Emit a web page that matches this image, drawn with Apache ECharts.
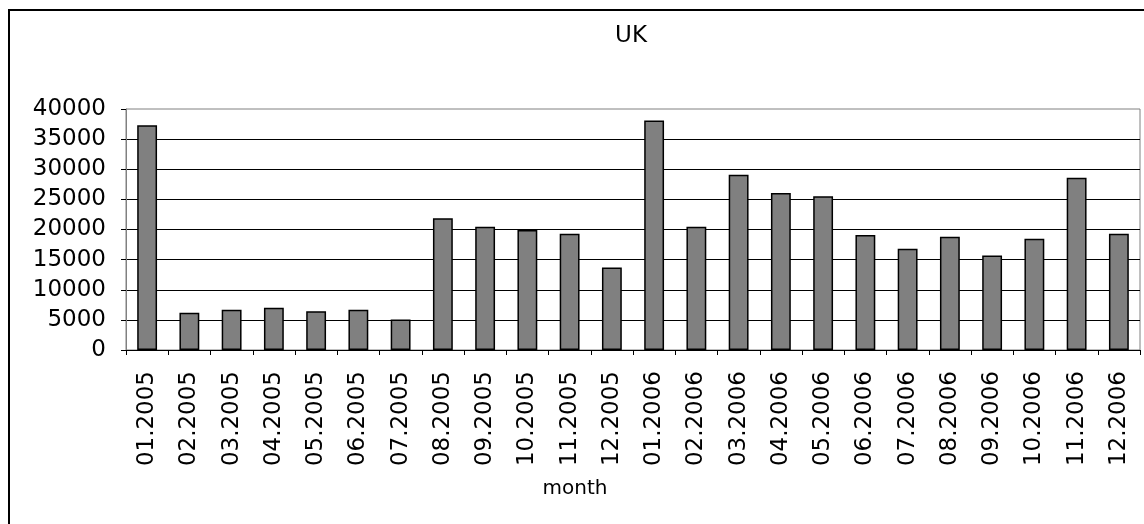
<!DOCTYPE html>
<html>
<head>
<meta charset="utf-8">
<script src="https://cdn.jsdelivr.net/npm/echarts@6/dist/echarts.min.js"></script>
<style>
  html, body { margin: 0; padding: 0; background: #fff; }
  #chart { width: 1144px; height: 524px; }
</style>
</head>
<body>
<div id="chart"></div>
<script>
// Monthly totals for the UK, 2005-2006
const months = [
  '01.2005', '02.2005', '03.2005', '04.2005', '05.2005', '06.2005',
  '07.2005', '08.2005', '09.2005', '10.2005', '11.2005', '12.2005',
  '01.2006', '02.2006', '03.2006', '04.2006', '05.2006', '06.2006',
  '07.2006', '08.2006', '09.2006', '10.2006', '11.2006', '12.2006'
];
const values = [
  37300, 6200, 6700, 7000, 6450, 6700,
  5050, 21850, 20450, 19900, 19300, 13700,
  38100, 20450, 29100, 26050, 25500, 19100,
  16800, 18800, 15700, 18450, 28600, 19300
];
const yTicks = { min: 0, max: 40000, interval: 5000 };

const FONT = '"DejaVu Sans", Verdana, sans-serif';

const chart = echarts.init(document.getElementById('chart'), null, { renderer: 'canvas' });
chart.setOption({
  backgroundColor: '#fff',
  animation: false,
  title: [
    {
      text: 'UK',
      left: 626,
      top: 20,
      textAlign: 'center',
      textStyle: { fontFamily: FONT, fontSize: 23, fontWeight: 'normal', color: '#000' }
    },
    {
      text: 'month',
      left: 570,
      top: 474,
      textAlign: 'center',
      textStyle: { fontFamily: FONT, fontSize: 20, fontWeight: 'normal', color: '#000' }
    }
  ],
  graphic: [
    {
      type: 'rect',
      shape: { x: 9, y: 10, width: 1200, height: 600 },
      style: { fill: 'none', stroke: '#000', lineWidth: 2 },
      silent: true
    }
  ],
  grid: {
    left: 126,
    right: 4,
    top: 109,
    bottom: 174,
    show: true,
    borderColor: '#808080',
    borderWidth: 1,
    containLabel: false
  },
  xAxis: {
    type: 'category',
    data: months,
    boundaryGap: true,
    axisLine: { show: true, lineStyle: { color: '#000', width: 1 } },
    axisTick: { show: true, length: 5, lineStyle: { color: '#000' } },
    axisLabel: {
      rotate: 90,
      interval: 0,
      margin: 21,
      fontFamily: FONT,
      fontSize: 23,
      color: '#000'
    },
    splitLine: { show: false }
  },
  yAxis: {
    type: 'value',
    min: yTicks.min,
    max: yTicks.max,
    interval: yTicks.interval,
    axisLine: { show: true, lineStyle: { color: '#808080', width: 1 } },
    axisTick: { show: true, length: 5, lineStyle: { color: '#000' } },
    axisLabel: {
      margin: 20,
      fontFamily: FONT,
      fontSize: 23,
      color: '#000',
      formatter: (v) => String(v)
    },
    splitLine: {
      show: true,
      showMinLine: false,
      showMaxLine: false,
      lineStyle: { color: '#000', width: 1 }
    }
  },
  series: [
    {
      type: 'bar',
      data: values,
      barWidth: '47%',
      itemStyle: {
        color: '#808080',
        borderColor: '#000',
        borderWidth: 1.5
      }
    }
  ]
});
</script>
</body>
</html>
